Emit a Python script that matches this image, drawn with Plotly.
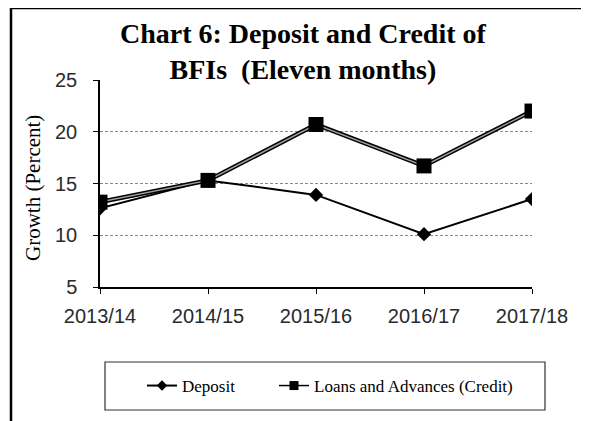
import plotly.graph_objects as go

years = ["2013/14", "2014/15", "2015/16", "2016/17", "2017/18"]
deposit = [12.6, 15.3, 13.9, 10.1, 13.5]
credit = [13.2, 15.3, 20.7, 16.7, 22.0]
y_ticks = [5, 10, 15, 20, 25]

OFF = 8  # page body margin
W, H = 589 - OFF, 421 - OFF
# plot area in screenshot coords: x 100..532, y 80..287
L, R, T, B = 100 - OFF, W - (532 - OFF), 80 - OFF, H - (287 - OFF)
pw = W - L - R
ph = H - T - B


def px_x(x):
    return (x - OFF - L) / pw


def px_y(y):
    return (H - B - (y - OFF)) / ph


fig = go.Figure()

# Deposit
fig.add_trace(go.Scatter(
    x=years, y=deposit, mode="lines+markers", showlegend=False,
    line=dict(color="black", width=2),
    marker=dict(symbol="diamond", size=11, color="black"),
))
# Credit: double line effect
fig.add_trace(go.Scatter(
    x=years, y=credit, mode="lines", showlegend=False,
    line=dict(color="black", width=4.5),
))
fig.add_trace(go.Scatter(
    x=years, y=credit, mode="lines+markers", showlegend=False,
    line=dict(color="#a0a0a0", width=1.5),
    marker=dict(symbol="square", size=15, color="black"),
))
# Legend proxies
fig.add_trace(go.Scatter(
    x=[None], y=[None], mode="lines+markers", name="Deposit",
    line=dict(color="black", width=2),
    marker=dict(symbol="diamond", size=8, color="black"),
    legendwidth=87,
))
fig.add_trace(go.Scatter(
    x=[None], y=[None], mode="lines+markers", name="Loans and Advances (Credit)",
    line=dict(color="black", width=1.5),
    marker=dict(symbol="square", size=9, color="black"),
))

tickfont = dict(family="Liberation Sans, Arial", size=20, color="#2a2a2a")

fig.update_xaxes(
    type="category", range=[0, 4], showgrid=False, zeroline=False,
    showline=True, linecolor="black", linewidth=1.5,
    ticks="outside", ticklen=5, tickcolor="black", tickwidth=1,
    tickfont=tickfont, ticklabelstandoff=5,
)
fig.update_yaxes(
    range=[5, 25], tickvals=y_ticks, showgrid=True, gridcolor="#888",
    griddash="3px,2px", gridwidth=1, zeroline=False,
    showline=True, linecolor="black", linewidth=1.5,
    ticks="outside", ticklen=5, tickcolor="black", tickwidth=1,
    tickfont=tickfont, ticklabelstandoff=12,
)

serif = "Liberation Serif, Times New Roman, serif"

fig.add_annotation(
    text="<b>Chart 6: Deposit and Credit of</b><br><b>BFIs  (Eleven months)</b>",
    xref="paper", yref="paper", x=px_x(303), y=px_y(51), xanchor="center",
    yanchor="middle", showarrow=False,
    font=dict(family=serif, size=28, color="black"),
)
fig.add_annotation(
    text="Growth (Percent)", textangle=-90,
    xref="paper", yref="paper", x=px_x(33), y=px_y(188), xanchor="center",
    yanchor="middle", showarrow=False,
    font=dict(family=serif, size=21, color="black"),
)

# outer border
fig.add_shape(type="rect", xref="paper", yref="paper",
              x0=px_x(11), x1=px_x(586), y0=px_y(440), y1=px_y(8),
              line=dict(color="black", width=2.5), fillcolor="rgba(0,0,0,0)")
# legend box
fig.add_shape(type="rect", xref="paper", yref="paper",
              x0=px_x(105), x1=px_x(545), y0=px_y(410), y1=px_y(362),
              line=dict(color="#333", width=1.2), fillcolor="rgba(0,0,0,0)")

fig.update_layout(
    width=W, height=H,
    margin=dict(l=L, r=R, t=T, b=B),
    paper_bgcolor="white", plot_bgcolor="white",
    showlegend=True,
    legend=dict(
        orientation="h", x=px_x(142), y=px_y(386), xanchor="left", yanchor="middle",
        font=dict(family=serif, size=17, color="black"),
        bgcolor="rgba(0,0,0,0)", borderwidth=0,
    ),
)

fig.write_html("out.html")
